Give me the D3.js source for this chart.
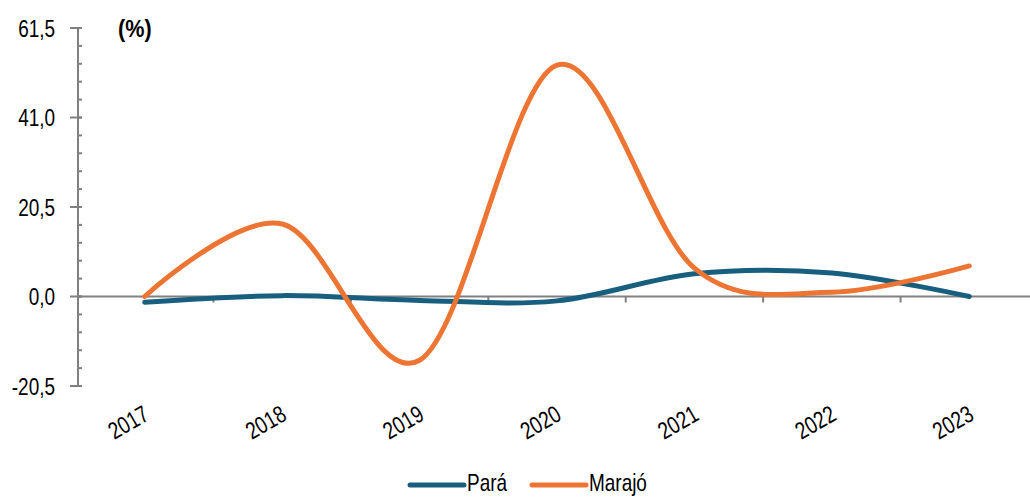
<!DOCTYPE html>
<html lang="pt">
<head>
<meta charset="UTF-8">
<title>Pará x Marajó</title>
<script src="https://d3js.org/d3.v7.min.js"></script>
<style>
    body { margin: 0; background: #fff; }
    text { font-family: "Liberation Sans", Arial, sans-serif; fill: #000; }
    .axis line { stroke: #808080; stroke-width: 2; }
</style>
</head>
<body>
<div id="chart"></div>
<script>
    const years = ["2017", "2018", "2019", "2020", "2021", "2022", "2023"];
    const para = [-1.3, 0.2, -0.9, -1.0, 5.2, 5.4, 0.0];
    const marajo = [0.0, 16.6, -14.6, 53.0, 6.5, 1.0, 7.0];
    const yTicks = [-20.5, 0, 20.5, 41.0, 61.5];
    const seriesNames = ["Pará", "Marajó"];
    const colors = ["#175e7f", "#ed7533"];

    const width = 1030, height = 497;
    const narrow = 0.79; // squeeze text like a narrow face

    const svg = d3.select("#chart").append("svg")
        .attr("width", width)
        .attr("height", height);

    const x = d3.scaleBand()
        .domain(years)
        .range([76, 1038]);

    const y = d3.scaleLinear()
        .domain([-20.5, 61.5])
        .range([386, 28]);

    const fmt = v => v.toFixed(1).replace(".", ",");

    // y axis: major ticks cross the line, minor ticks only on the right
    const yAxis = svg.append("g").attr("class", "axis")
        .attr("transform", "translate(78,0)");
    yAxis.append("line")
        .attr("y1", y(61.5)).attr("y2", y(-20.5));
    const minor = d3.range(-20.5, 61.5 + 0.01, 4.1);
    yAxis.selectAll(".minor")
        .data(minor)
        .enter().append("line")
        .attr("x1", 0).attr("x2", 4)
        .attr("y1", d => y(d)).attr("y2", d => y(d));
    yAxis.selectAll(".major")
        .data(yTicks)
        .enter().append("line")
        .attr("x1", -8).attr("x2", 4)
        .attr("y1", d => y(d)).attr("y2", d => y(d));
    yAxis.selectAll(".lbl")
        .data(yTicks)
        .enter().append("text")
        .attr("transform", d => `translate(-23,${y(d)}) scale(${narrow},1)`)
        .attr("dy", "0.36em")
        .attr("text-anchor", "end")
        .style("font-size", "24px")
        .text(fmt);

    // x axis along zero, ticks between categories
    const xAxis = svg.append("g").attr("class", "axis");
    xAxis.append("line")
        .attr("x1", 78).attr("x2", 1030)
        .attr("y1", y(0)).attr("y2", y(0));
    xAxis.selectAll(".tick")
        .data(years.slice(1))
        .enter().append("line")
        .attr("x1", d => x(d)).attr("x2", d => x(d))
        .attr("y1", y(0)).attr("y2", y(0) + 6);

    const cx = d => x(d) + x.bandwidth() / 2;

    svg.selectAll(".xlbl")
        .data(years)
        .enter().append("text")
        .attr("text-anchor", "end")
        .attr("transform", d => `translate(${cx(d) + 6},${419}) rotate(-30) scale(${narrow},1)`)
        .style("font-size", "24px")
        .text(d => d);

    svg.append("text")
        .attr("transform", `translate(118,37) scale(0.9,1)`)
        .style("font-size", "24px")
        .style("font-weight", "bold")
        .text("(%)");

    const line = d3.line()
        .x((d, i) => cx(years[i]))
        .y(d => y(d))
        .curve(d3.curveCardinal.tension(0));

    [para, marajo].forEach((vals, i) => {
        svg.append("path")
            .datum(vals)
            .attr("d", line)
            .attr("fill", "none")
            .attr("stroke", colors[i])
            .attr("stroke-width", 5)
            .attr("stroke-linecap", "round");
    });

    // legend
    const legendX = [410, 532];
    const lg = svg.append("g");
    seriesNames.forEach((name, i) => {
        lg.append("line")
            .attr("x1", legendX[i]).attr("x2", legendX[i] + 54)
            .attr("y1", 485).attr("y2", 485)
            .attr("stroke", colors[i])
            .attr("stroke-width", 5)
            .attr("stroke-linecap", "round");
        lg.append("text")
            .attr("transform", `translate(${legendX[i] + 57},491) scale(${narrow},1)`)
            .style("font-size", "24px")
            .text(name);
    });
</script>
</body>
</html>
